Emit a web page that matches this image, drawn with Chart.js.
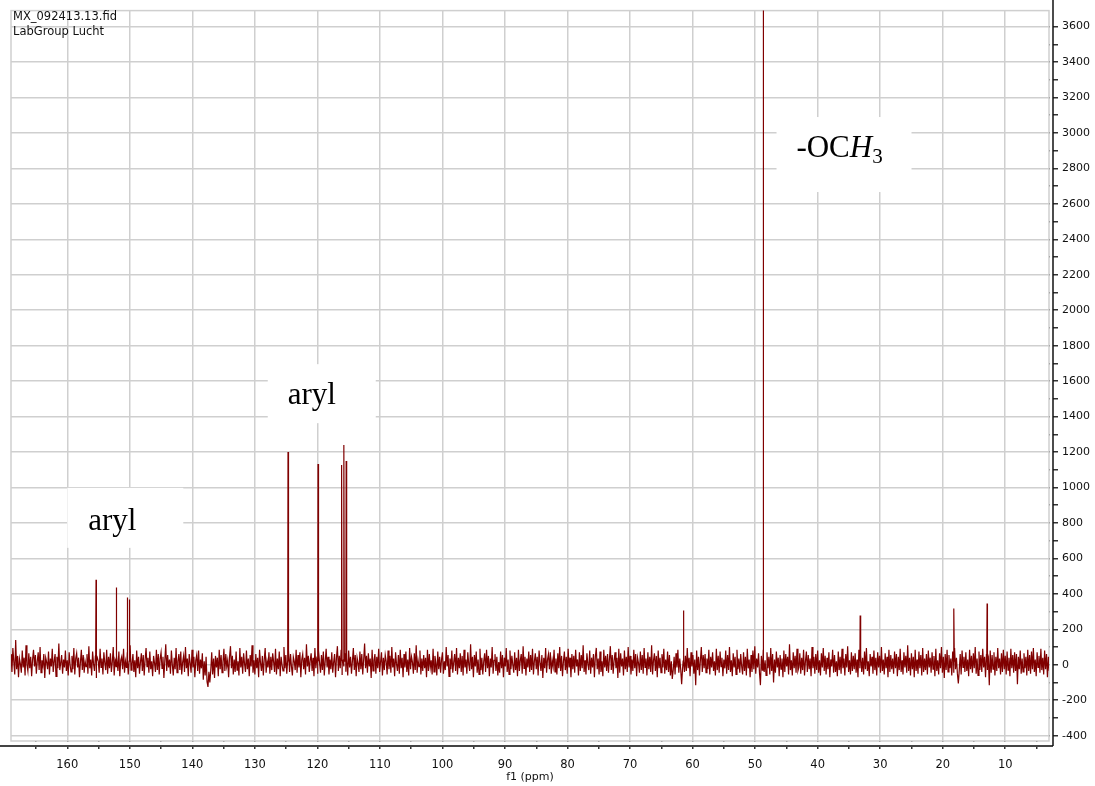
<!DOCTYPE html>
<html>
<head>
<meta charset="utf-8">
<script src="https://cdn.jsdelivr.net/npm/chart.js@4.4.0/dist/chart.umd.min.js"></script>
<style>
  html, body { margin: 0; padding: 0; background: #fff; }
  #wrap { width: 1095px; height: 786px; }
</style>
</head>
<body>
<div id="wrap"><canvas id="spec" width="1095" height="786"></canvas></div>
<script>
// baseline noise, one value every 0.15 ppm from 169 ppm down
const noiseStart = 169;
const noiseStep = 0.15;
const noise = [
  60,-40,95,15,-55,140,-25,50,-70,35,5,-45,80,-15,40,-60,110,0,-35,65,
  -20,45,-65,30,85,-10,55,-50,20,70,-30,100,-45,25,-5,60,-75,40,15,-25,
  75,-55,35,-10,90,-40,20,60,-65,45,-20,120,-30,10,55,-50,30,-15,80,-35,
  25,-60,70,0,-40,50,-25,95,-55,35,65,-15,40,-70,15,85,-30,55,-45,20,
  -10,60,-50,105,-20,30,-60,75,5,-35,50,-75,40,20,-45,90,-15,35,-55,70,
  10,-30,85,-50,45,-20,65,-40,15,100,-60,30,-10,55,-35,75,-65,25,45,-25,
  90,-45,20,-15,70,-55,35,110,-30,5,60,-40,25,-70,80,-20,45,-50,15,65,
  -35,55,-60,30,95,-10,40,-45,75,-25,20,-65,50,10,-40,85,-30,60,-55,35,
  70,-20,45,-75,25,115,-35,55,-15,30,-50,80,0,-60,40,-25,95,-45,20,60,
  -30,75,-55,15,50,-40,100,-20,35,-65,60,10,-45,85,-15,45,-70,25,55,-35,
  80,-50,30,-20,65,-85,20,-60,45,-95,-125,-40,-100,-30,70,-55,35,-75,50,-15,
  40,-65,85,-25,55,-45,15,90,-35,60,-10,25,-70,45,105,-20,50,-55,30,-40,
  75,-30,20,-60,95,-15,45,-50,65,5,-40,80,-25,35,-65,55,-10,110,-45,25,
  -55,60,-20,40,-70,85,10,-35,50,-60,30,95,-45,20,-15,70,-50,45,-30,65,
  15,-40,90,-55,35,-25,75,-65,45,0,-35,100,-20,55,-50,25,80,-40,60,-10,
  -60,45,20,-30,85,-45,55,-15,70,-70,30,60,-25,40,-55,115,-10,50,-40,25,
  65,-35,40,-65,95,-20,35,-50,80,10,-45,55,-30,75,-60,20,90,-15,45,-55,
  30,-25,70,-45,15,60,-70,40,105,-35,50,-20,85,-55,25,-10,65,-40,35,-60,
  80,-15,45,-50,20,95,-30,55,-65,40,10,-40,75,-25,60,-55,30,120,-20,50,
  -45,65,-10,35,-75,85,-35,25,60,-50,45,-20,90,-40,15,70,-60,40,-30,55,
  20,-55,80,-25,50,-45,100,-15,35,-65,70,5,-35,55,-50,85,-20,40,-70,60,
  -15,75,-40,30,-60,95,-25,45,15,-50,65,-30,110,-45,25,-10,80,-55,35,-35,
  55,-20,40,-70,85,-35,60,-15,25,-55,90,-40,50,10,-60,75,-25,45,-45,30,
  70,-50,20,-30,100,-10,55,-65,35,-25,80,-45,15,60,-35,95,-55,40,-20,65,
  -40,50,-60,85,-15,30,-50,70,5,-35,115,-25,45,-70,55,-10,75,-45,30,-55,
  90,-30,40,-55,20,65,-40,85,-20,50,-65,35,-15,100,-50,25,60,-35,45,-60,
  15,-45,75,-20,55,-70,40,-10,95,-40,30,-55,80,-25,50,0,-45,70,-30,40,
  -65,85,-35,25,60,-50,105,-20,45,-60,35,-15,75,-40,55,-30,90,-55,20,65,
  -25,45,-60,80,10,-35,55,-75,40,-20,95,-45,30,60,-25,70,-50,25,-10,85,
  -40,35,-55,65,-20,100,-35,50,-65,20,75,-30,45,-50,90,-15,40,-70,60,-25,
  50,-45,85,-10,30,-60,70,-35,55,-20,110,-40,25,-55,65,5,-30,80,-50,40,
  -15,60,-70,45,95,-25,35,-55,75,-40,20,-65,85,-15,50,-35,60,-45,30,105,
  -30,55,-50,25,70,-20,40,-75,90,-45,65,-10,35,-60,80,-25,45,-40,100,-15,
  50,-55,30,-35,85,-20,60,-65,40,10,-45,75,-30,55,-50,95,-15,35,-60,70,
  -25,45,-40,110,-55,25,65,-35,50,-70,80,-20,40,-45,60,-15,90,-50,30,-30,
  75,-40,55,-60,20,-80,-30,45,-55,65,-15,85,-45,35,-25,-110,-20,60,-40,50,
  -35,95,-20,40,-65,70,-10,55,-50,30,-115,80,-30,45,-60,25,100,-40,55,-20,
  60,-45,35,-25,85,-55,45,-15,70,-35,20,-60,90,-30,50,-45,75,-10,40,-65,
  30,-20,80,-50,55,-30,100,-40,25,-65,65,-15,45,-55,85,-25,35,-45,60,-10,
  -55,70,-35,45,-60,90,-20,30,-70,55,-40,80,-25,105,-50,35,-15,65,-45,-115,
  50,-30,85,-40,25,-60,70,-20,45,-55,95,-35,60,-100,30,-45,75,-15,40,-65,
  55,-25,35,-70,80,-40,60,-10,45,-55,115,-30,25,-60,70,-20,50,-45,90,-35,
  -15,65,-50,40,-30,85,-60,20,75,-40,55,-25,35,-65,100,-20,45,-50,60,-30,
  80,-45,25,-60,65,-15,95,-35,50,-55,40,-25,70,-70,30,-10,85,-45,55,-40,
  20,-65,75,-30,45,-50,90,-20,35,-60,60,-15,105,-40,25,-55,70,-35,50,-25,
  65,-45,30,-70,85,-20,55,-40,40,-55,75,-25,95,-35,20,-65,60,-10,45,-50,
  80,-30,40,-60,70,-15,50,-45,100,-35,30,-55,65,-20,45,-70,85,-40,55,-25,
  35,-50,75,-20,60,-65,45,-30,90,-40,25,-55,70,-15,50,-45,110,-35,40,-60,
  65,-25,45,-70,85,-35,30,-50,75,-20,55,-60,95,-40,35,-30,60,-55,80,-15,
  40,-45,70,-25,50,-65,90,-35,25,-55,65,-20,100,-45,45,-75,60,-30,85,-40,
  55,-20,35,-60,75,-45,95,-25,40,-50,-105,-30,60,-55,80,-15,45,-40,70,-35,
  30,-65,85,-25,50,-45,65,-20,100,-50,35,-60,75,-30,55,-40,90,-15,45,-70,
  60,-30,40,-115,80,-45,55,-25,70,-60,45,-35,95,-20,35,-55,65,-40,85,-25,
  50,-55,75,-30,40,-65,90,-20,55,-45,70,-35,60,-110,45,-25,80,-50,35,-40,
  65,-20,45,-60,85,-35,55,-50,75,-25,95,-40,30,-65,70,-15,50,-45,90,-30,
  40,-55,80,-25,60,-70,45,-35,100,-20,55,-50,70,-30,85,-45,35,-60,65,-25
];

// signals
const peakPpm    = [155.4, 152.2, 150.4, 150.05, 124.7, 119.9, 116.1, 115.75, 115.4, 61.45, 48.7, 33.2, 18.2, 12.9];
const peakHeight = [480,   436,   379,   368,    1200,  1133,  1127,  1240,   1150,  306,   3900, 278,  318,  346];

// annotations
const labelText = ['aryl', 'aryl', '-OCH3'];
const labelPpm  = [152.8, 120.9, 36.5];
const labelInt  = [761, 1470, 2864];

const headerLines = ['MX_092413.13.fid', 'LabGroup Lucht'];

const pts = noise.map((v, i) => ({ x: noiseStart - i * noiseStep, y: v }));
peakPpm.forEach((p, i) => {
  pts.push({ x: p + 0.06, y: 20 }, { x: p, y: peakHeight[i] }, { x: p - 0.06, y: 20 });
});
pts.sort((a, b) => b.x - a.x);

const gridCol = '#cfcfcf';
const serif = 'Liberation Serif, Times New Roman, serif';
// white boxes behind labels, offsets from text centre/baseline
const boxes = [[-45, -42, 116, 60], [-44, -40, 108, 59], [-63, -40, 135, 75]];

function drawLabel(ctx, txt, cx, by) {
  ctx.fillStyle = '#000';
  ctx.textBaseline = 'alphabetic';
  ctx.textAlign = 'left';
  if (txt === '-OCH3') {
    ctx.font = '31px ' + serif;
    const a = ctx.measureText('-OC').width;
    ctx.font = 'italic 31px ' + serif;
    const b = ctx.measureText('H').width;
    ctx.font = '21px ' + serif;
    const c = ctx.measureText('3').width;
    let x = cx - (a + b + c) / 2;
    ctx.font = '31px ' + serif;
    ctx.fillText('-OC', x, by);
    x += a;
    ctx.font = 'italic 31px ' + serif;
    ctx.fillText('H', x, by);
    x += b;
    ctx.font = '21px ' + serif;
    ctx.fillText('3', x, by + 6);
  } else {
    ctx.font = '31px ' + serif;
    ctx.textAlign = 'center';
    ctx.fillText(txt, cx, by);
  }
}

const decor = {
  id: 'decor',
  beforeDatasetsDraw(chart) {
    const { ctx, chartArea: a, scales: { x, y } } = chart;
    ctx.save();
    ctx.fillStyle = '#fff';
    labelText.forEach((t, i) => {
      const cx = x.getPixelForValue(labelPpm[i]);
      const by = y.getPixelForValue(labelInt[i]);
      const b = boxes[i];
      ctx.fillRect(cx + b[0], by + b[1], b[2], b[3]);
    });
    ctx.strokeStyle = gridCol;
    ctx.lineWidth = 1.5;
    ctx.strokeRect(a.left, a.top, a.right - a.left, a.bottom - a.top);
    ctx.restore();
  },
  afterDraw(chart) {
    const { ctx, chartArea: a, scales: { x, y } } = chart;
    ctx.save();
    // gap between plot frame and axis lines
    ctx.fillStyle = '#fff';
    ctx.fillRect(a.left - 1, a.bottom + 1, a.right - a.left + 2, 4);
    ctx.fillRect(a.right + 1, a.top - 1, 3, a.bottom - a.top + 2);
    ctx.strokeStyle = '#444';
    ctx.lineWidth = 2;
    ctx.beginPath();
    ctx.moveTo(0, a.bottom + 5);
    ctx.lineTo(a.right + 4, a.bottom + 5);
    ctx.stroke();
    ctx.strokeStyle = '#111';
    ctx.lineWidth = 1.5;
    ctx.beginPath();
    ctx.moveTo(a.right + 4, 0);
    ctx.lineTo(a.right + 4, a.bottom + 5);
    ctx.stroke();

    ctx.fillStyle = '#111';
    ctx.font = '11.5px DejaVu Sans';
    ctx.textAlign = 'left';
    ctx.textBaseline = 'alphabetic';
    headerLines.forEach((h, i) => ctx.fillText(h, 13, 20 + i * 15));

    labelText.forEach((t, i) => {
      drawLabel(ctx, t, x.getPixelForValue(labelPpm[i]), y.getPixelForValue(labelInt[i]));
    });
    ctx.restore();
  }
};

new Chart(document.getElementById('spec'), {
  type: 'line',
  data: {
    datasets: [{
      data: pts,
      borderColor: '#800000',
      borderWidth: 1.2,
      pointRadius: 0,
      tension: 0
    }]
  },
  options: {
    responsive: false,
    animation: false,
    events: [],
    layout: { padding: { left: 11, top: 8, right: 0, bottom: 0 } },
    plugins: { legend: { display: false }, tooltip: { enabled: false } },
    scales: {
      x: {
        type: 'linear',
        reverse: true,
        min: 3,
        max: 169,
        afterFit(s) { s.height = 45; },
        border: { display: false },
        grid: {
          color: c => (c.tick && c.tick.value % 10 === 0 ? gridCol : 'rgba(0,0,0,0)'),
          lineWidth: 1.5,
          tickColor: '#333',
          tickLength: 8
        },
        ticks: {
          stepSize: 5,
          includeBounds: false,
          autoSkip: false,
          maxRotation: 0,
          padding: 9,
          color: '#111',
          font: { family: 'DejaVu Sans', size: 11.5 },
          callback: v => (v % 10 === 0 ? v : '')
        },
        title: {
          display: true,
          text: 'f1 (ppm)',
          color: '#111',
          font: { family: 'DejaVu Sans', size: 11 },
          padding: { top: 0, bottom: 2 }
        }
      },
      y: {
        position: 'right',
        min: -430,
        max: 3690,
        afterFit(s) { s.width = 46; },
        border: { display: false },
        grid: {
          color: c => (c.tick && c.tick.value % 200 === 0 ? gridCol : 'rgba(0,0,0,0)'),
          lineWidth: 1.5,
          tickColor: '#333',
          tickLength: 9
        },
        ticks: {
          stepSize: 100,
          includeBounds: false,
          autoSkip: false,
          padding: 4,
          color: '#111',
          font: { family: 'DejaVu Sans', size: 11 },
          callback: v => (v % 200 === 0 ? v : '')
        }
      }
    }
  },
  plugins: [decor]
});
</script>
</body>
</html>
